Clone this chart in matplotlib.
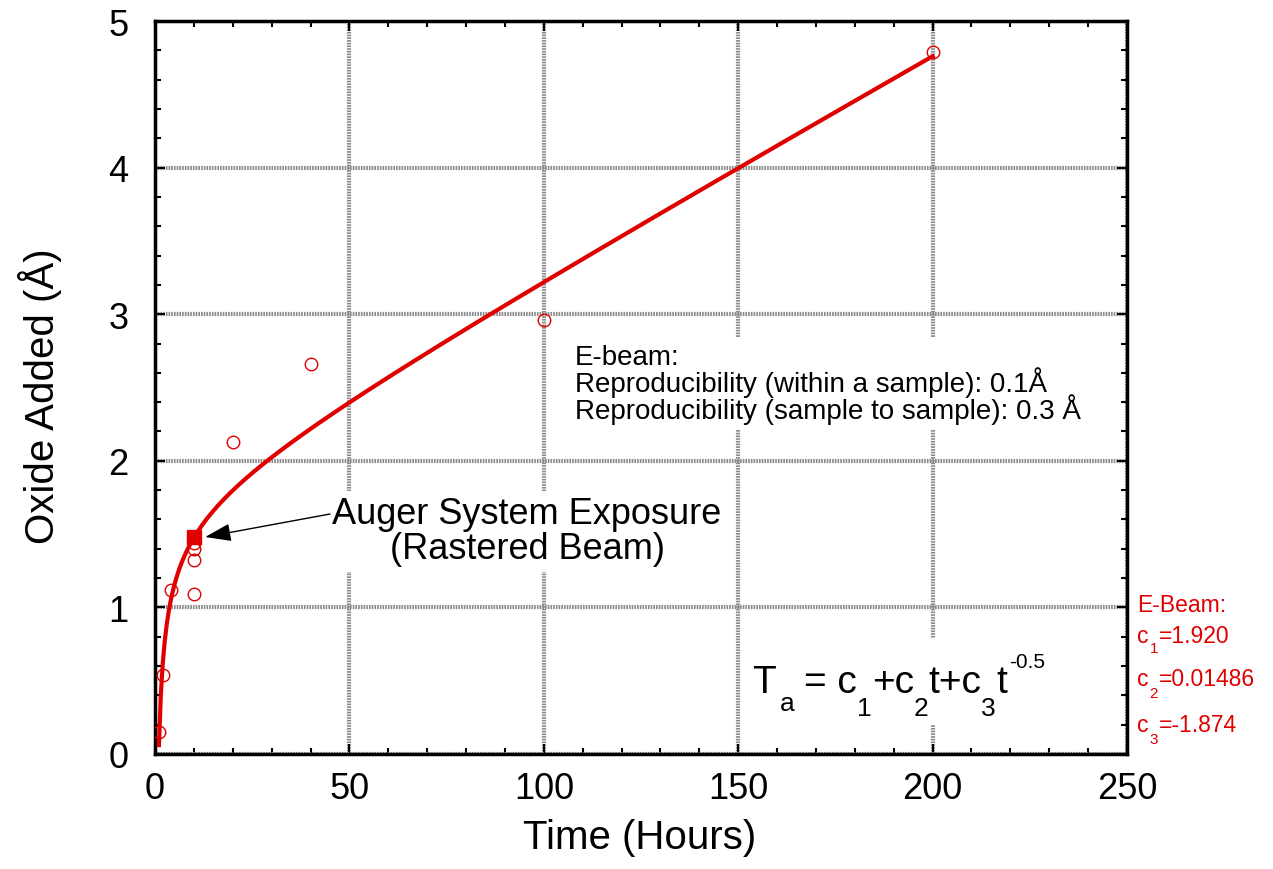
import numpy as np
import matplotlib

matplotlib.use("Agg")
import matplotlib.pyplot as plt
from matplotlib.patches import Rectangle
from matplotlib.ticker import MultipleLocator

plt.rcParams["font.family"] = ["Liberation Sans", "DejaVu Sans"]

RED = "#e00000"
GRID_GREY = "#8c8c8c"

# measured oxide growth (hours, angstrom)
hours = [1, 2, 4, 10, 10, 10, 10, 20, 40, 100, 200]
oxide = [0.15, 0.54, 1.12, 1.09, 1.32, 1.40, 1.44, 2.13, 2.66, 2.96, 4.79]

# auger exposure point
auger_hours = [10]
auger_oxide = [1.48]

# fit coefficients for T_a = c1 + c2*t + c3*t^-0.5
c1, c2, c3 = 1.920, 0.01486, -1.874
fit_range = (1, 200)

fit_t = np.linspace(fit_range[0], fit_range[1], 400)
fit_y = c1 + c2 * fit_t + c3 * fit_t ** -0.5

fig = plt.figure(figsize=(12.73, 8.7), dpi=100)
ax = fig.add_axes([0.1218, 0.1322, 0.7635, 0.8425])

ax.plot(fit_t, fit_y, color=RED, lw=3.0, zorder=3)
ax.plot(hours, oxide, linestyle="none", marker="o", markersize=9,
        markerfacecolor="none", markeredgecolor=RED, markeredgewidth=1.0, zorder=4)
ax.plot(auger_hours, auger_oxide, linestyle="none", marker="s", markersize=10,
        color=RED, zorder=5)

ax.set_xlim(0, 250)
ax.set_ylim(0, 5)
ax.xaxis.set_major_locator(MultipleLocator(50))
ax.xaxis.set_minor_locator(MultipleLocator(10))
ax.yaxis.set_major_locator(MultipleLocator(1))
ax.yaxis.set_minor_locator(MultipleLocator(0.2))

ax.grid(True, which="major", color=GRID_GREY, lw=3.0,
        linestyle=(0, (0.4, 0.25)))
ax.set_axisbelow(True)

for side in ax.spines.values():
    side.set_linewidth(2.5)

ax.tick_params(which="both", direction="in", top=True, right=True,
               width=1.5, labelsize=26)
ax.tick_params(which="major", length=7, pad=12)
ax.tick_params(axis="y", which="major", pad=19)
ax.tick_params(which="minor", length=4)

ax.set_xlabel("Time (Hours)", fontsize=29)
ax.set_ylabel("Oxide Added (Å)", fontsize=29)
ax.xaxis.set_label_coords(0.499, -0.088)
ax.yaxis.set_label_coords(-0.096, 0.49)

white_box = dict(facecolor="white", edgecolor="none", pad=4)

ax.annotate("", xy=(12.9, 1.48), xytext=(45.0, 1.637),
            arrowprops=dict(arrowstyle="-|>,head_length=1.6,head_width=0.55",
                            mutation_scale=10, color="black", lw=1.0,
                            shrinkA=0, shrinkB=0),
            zorder=6)

ax.text(95.7, 1.52, "Auger System Exposure\n(Rastered Beam)", fontsize=26,
        ha="center", va="center", multialignment="center", linespacing=1.0,
        bbox=white_box, zorder=2)

ax.text(108.0, 2.80,
        "E-beam:\nReproducibility (within a sample): 0.1Å\n"
        "Reproducibility (sample to sample): 0.3 Å",
        fontsize=20, ha="left", va="top", linespacing=0.86,
        bbox=white_box, zorder=2)

# blank patch behind the fit equation
ax.add_patch(Rectangle((151, 0.20), 73, 0.59, facecolor="white",
                       edgecolor="none", zorder=1))

renderer = fig.canvas.get_renderer()


def draw_run(x_px, y_px, pieces, color="black"):
    """Write text pieces left to right from a baseline given in pixels.
    Each piece is (text, fontsize, baseline shift px, gap before px)."""
    width, height = fig.bbox.width, fig.bbox.height
    for s, size, dy, gap in pieces:
        x_px += gap
        t = fig.text(x_px / width, (y_px + dy) / height, s, fontsize=size,
                     color=color, ha="left", va="baseline", zorder=7)
        x_px = t.get_window_extent(renderer).x1


eq_x, eq_y = ax.transData.transform((153.5, 0.423))
draw_run(eq_x, eq_y, [
    ("T", 28, 0, 0),
    ("a", 19, -18, 4),
    ("= c", 28, 0, 10),
    ("1", 19, -23, 0),
    ("+c", 28, 0, 0),
    ("2", 19, -23, 0),
    ("t+c", 28, 0, 0),
    ("3", 19, -23, 0),
    ("t", 28, 0, 0),
    ("-0.5", 15, 25, 2),
])

# coefficient listing to the right of the plot
H = fig.bbox.height
fig.text(1137 / fig.bbox.width, (H - 612) / H, "E-Beam:", fontsize=16.5,
         color=RED, ha="left", va="baseline")
coef_rows = [("1", "=%.3f" % c1, 643, -10),
             ("2", "=%.5f" % c2, 686, -12),
             ("3", "=%.3f" % c3, 732, -12)]
for idx, value, base, drop in coef_rows:
    draw_run(1137, H - base, [
        ("c", 16.5, 0, 0),
        (idx, 11, drop, 1),
        (value, 16.5, 0, 1),
    ], color=RED)

fig.savefig("out.png", dpi=100)
